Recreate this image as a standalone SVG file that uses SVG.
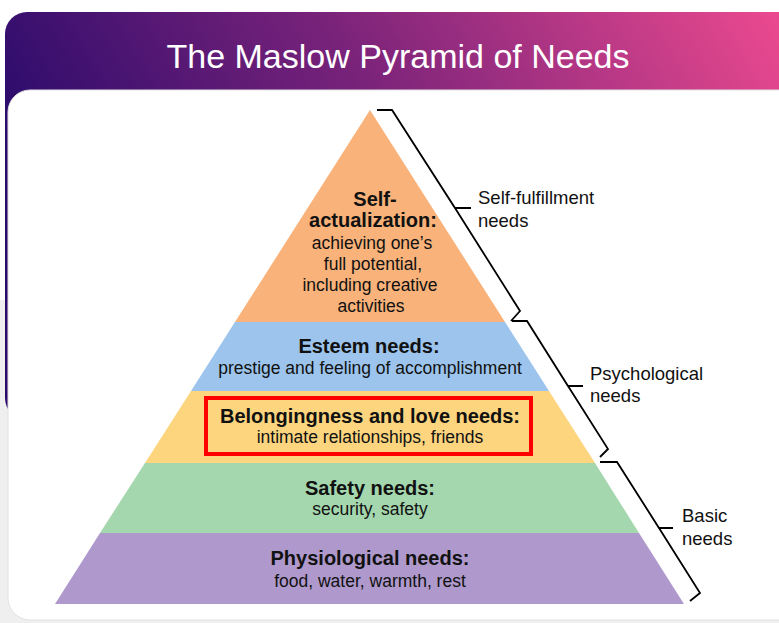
<svg xmlns="http://www.w3.org/2000/svg" width="779" height="623" viewBox="0 0 779 623">
<defs>
<linearGradient id="hdr" x1="0" y1="0.3" x2="1" y2="0">
<stop offset="0" stop-color="#2A0B6C"/>
<stop offset="0.45" stop-color="#7A237A"/>
<stop offset="1" stop-color="#F24C90"/>
</linearGradient>
<style>
.b{font-family:"Liberation Sans",Arial,sans-serif;font-weight:bold;font-size:20px;fill:#111;text-anchor:middle}
.r{font-family:"Liberation Sans",Arial,sans-serif;font-size:17.5px;fill:#111;text-anchor:middle}
.l{font-family:"Liberation Sans",Arial,sans-serif;font-size:18.5px;fill:#111}
.br{fill:none;stroke:#000;stroke-width:1.8;stroke-linejoin:miter}
</style>
</defs>
<rect width="779" height="623" fill="#ffffff"/>
<rect x="0" y="300" width="779" height="323" fill="#EFEFEF"/>
<rect x="5" y="12" width="800" height="408" rx="22" fill="url(#hdr)"/>
<text x="398" y="68" font-family="'Liberation Sans',Arial,sans-serif" font-size="34" fill="#ffffff" text-anchor="middle">The Maslow Pyramid of Needs</text>
<rect x="8" y="90" width="800" height="530" rx="22" fill="#FFFFFF" stroke="#E2E2E2" stroke-width="1"/>

<g id="self-actualization">
<polygon points="370,110 505,322 235,322" fill="#F8B27A"/>
<text class="b" x="375" y="206">Self-</text>
<text class="b" x="373" y="227">actualization:</text>
<text class="r" x="372" y="249">achieving one’s</text>
<text class="r" x="373" y="270">full potential,</text>
<text class="r" x="370" y="291">including creative</text>
<text class="r" x="371" y="312">activities</text>
</g>
<g id="esteem">
<polygon points="235,322 505,322 549,391 191,391" fill="#9CC4EC"/>
<text class="b" x="369" y="353">Esteem needs:</text>
<text class="r" x="370" y="374">prestige and feeling of accomplishment</text>
</g>
<g id="belonging">
<polygon points="191,391 549,391 595,463 145,463" fill="#FDD57F"/>
<rect x="206" y="398" width="325" height="56" fill="none" stroke="#FF0000" stroke-width="4"/>
<text class="b" x="370" y="423">Belongingness and love needs:</text>
<text class="r" x="370" y="443">intimate relationships, friends</text>
</g>
<g id="safety">
<polygon points="145,463 595,463 639,533 100,533" fill="#A4D7AE"/>
<text class="b" x="370" y="495">Safety needs:</text>
<text class="r" x="370" y="515">security, safety</text>
</g>
<g id="physiological">
<polygon points="100,533 639,533 684,604 55,604" fill="#AF99CC"/>
<text class="b" x="370" y="565">Physiological needs:</text>
<text class="r" x="370" y="587">food, water, warmth, rest</text>
</g>

<g id="brackets">
<path class="br" d="M377,110 L392,110 L455,208 L471,208 M455,208 L520,311 L511,321"/>
<path class="br" d="M512,321 L527,321 L568,386 L583,386 M568,386 L608,449 L600,457"/>
<path class="br" d="M600,462 L617,462 L659,528 L673,528 M659,528 L700,593 L690,601"/>
</g>
<g id="labels">
<text class="l" x="478" y="204">Self-fulfillment</text>
<text class="l" x="478" y="227">needs</text>
<text class="l" x="590" y="380">Psychological</text>
<text class="l" x="590" y="402">needs</text>
<text class="l" x="682" y="522">Basic</text>
<text class="l" x="682" y="545">needs</text>
</g>
</svg>
